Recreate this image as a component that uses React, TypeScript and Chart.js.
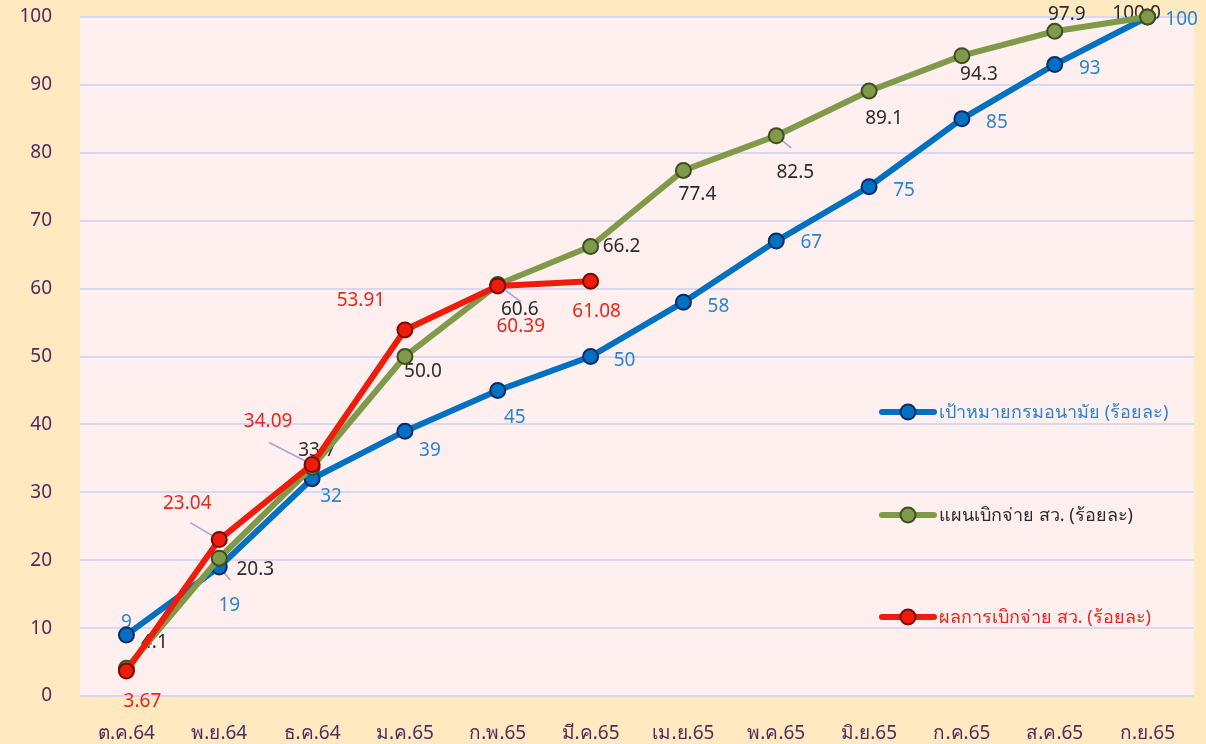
import React, { useEffect, useRef } from "react";
import { Chart, registerables } from "chart.js";

Chart.register(...registerables);

// ---------- data ----------
const months = ["ต.ค.64", "พ.ย.64", "ธ.ค.64", "ม.ค.65", "ก.พ.65", "มี.ค.65", "เม.ย.65", "พ.ค.65", "มิ.ย.65", "ก.ค.65", "ส.ค.65", "ก.ย.65"];
const targetValues = [9, 19, 32, 39, 45, 50, 58, 67, 75, 85, 93, 100];
const planValues = [4.1, 20.3, 33.7, 50.0, 60.6, 66.2, 77.4, 82.5, 89.1, 94.3, 97.9, 100.0];
const actualValues = [3.67, 23.04, 34.09, 53.91, 60.39, 61.08];
const seriesNames = ["เป้าหมายกรมอนามัย (ร้อยละ)", "แผนเบิกจ่าย สว. (ร้อยละ)", "ผลการเบิกจ่าย สว. (ร้อยละ)"];
const targetDecimals = 0;
const planDecimals = 1;
const actualDecimals = 2;

// ---------- styling ----------
const FONT = '"Noto Sans", "DejaVu Sans", sans-serif';
const OUTER_BG = "#FFE9C1";
const PLOT_BG = "#FFF0EF";
const GRID = "#D8D8F0";
const TICK_COLOR = "#4E2D5F";
const LEADER = "#A7A3D8";

const seriesStyles = [
  { line: "#0070C0", border: "#0B2A6B", text: "#2A84D2" },
  { line: "#7F9A48", border: "#3E4D22", text: "#2B2B2B" },
  { line: "#EE1C0A", border: "#7A0A00", text: "#E8261C" },
];

// label offsets (dx, dy) relative to each point
const labelOffsets: number[][][] = [
  [[0, -12], [10, 39], [19, 18], [25, 19], [17, 27], [34, 4], [35, 4], [35, 2], [35, 4], [35, 4], [35, 4], [34, 3]],
  [[28, -26], [36, 11], [5, -17], [18, 15], [22, 25], [31, 0], [14, 24], [19, 37], [15, 28], [17, 19], [12, -17], [-11, -3]],
  [[16, 31], [-32, -36], [-44, -43], [-44, -29], [23, 41], [6, 30]],
];
// leader lines: [series, index, dx, dy]
const leaders: number[][] = [
  [0, 1, 11, 13],
  [2, 1, -29, -17],
  [2, 2, -43, -22],
  [1, 4, 23, 17],
  [1, 7, 15, 12],
];
const legendRows = [412, 515, 617];

export default function App() {
  const canvasRef = useRef<HTMLCanvasElement | null>(null);

  useEffect(() => {
    document.body.style.margin = "0";
    const canvas = canvasRef.current;
    if (!canvas) return;

    const decimals = [targetDecimals, planDecimals, actualDecimals];

    const plotBg = {
      id: "plotBg",
      beforeDraw(chart: any) {
        const { ctx, chartArea } = chart;
        ctx.save();
        ctx.fillStyle = PLOT_BG;
        ctx.fillRect(chartArea.left, chartArea.top, chartArea.right - chartArea.left, chartArea.bottom - chartArea.top);
        ctx.restore();
      },
    };

    const dataLabels = {
      id: "dataLabels",
      beforeDatasetsDraw(chart: any) {
        const ctx = chart.ctx;
        ctx.save();
        ctx.strokeStyle = LEADER;
        ctx.lineWidth = 1.5;
        leaders.forEach(([s, i, dx, dy]) => {
          const el = chart.getDatasetMeta(s).data[i];
          if (!el) return;
          ctx.beginPath();
          ctx.moveTo(el.x, el.y);
          ctx.lineTo(el.x + dx, el.y + dy);
          ctx.stroke();
        });
        ctx.font = `19px ${FONT}`;
        ctx.textAlign = "center";
        ctx.textBaseline = "middle";
        chart.data.datasets.forEach((ds: any, s: number) => {
          const meta = chart.getDatasetMeta(s);
          ctx.fillStyle = seriesStyles[s].text;
          meta.data.forEach((el: any, i: number) => {
            const v = ds.data[i];
            if (v == null) return;
            const off = labelOffsets[s][i] || [0, -14];
            ctx.fillText(Number(v).toFixed(decimals[s]), el.x + off[0], el.y + off[1]);
          });
        });
        ctx.restore();
      },
    };

    const customLegend = {
      id: "customLegend",
      afterDraw(chart: any) {
        const ctx = chart.ctx;
        ctx.save();
        legendRows.forEach((y, s) => {
          const st = seriesStyles[s];
          ctx.strokeStyle = st.line;
          ctx.lineWidth = 6;
          ctx.lineCap = "round";
          ctx.beginPath();
          ctx.moveTo(882, y);
          ctx.lineTo(934, y);
          ctx.stroke();
          ctx.beginPath();
          ctx.arc(908, y, 7.5, 0, Math.PI * 2);
          ctx.fillStyle = st.line;
          ctx.fill();
          ctx.lineWidth = 2;
          ctx.strokeStyle = st.border;
          ctx.stroke();
          ctx.font = `18px ${FONT}`;
          ctx.textAlign = "left";
          ctx.textBaseline = "middle";
          ctx.fillStyle = st.text;
          ctx.fillText(seriesNames[s], 939, y + 1);
        });
        ctx.restore();
      },
    };

    const mk = (s: number, data: number[], order: number) => ({
      label: seriesNames[s],
      data,
      borderColor: seriesStyles[s].line,
      backgroundColor: seriesStyles[s].line,
      pointBackgroundColor: seriesStyles[s].line,
      pointBorderColor: seriesStyles[s].border,
      pointBorderWidth: 2,
      pointRadius: 7.5,
      borderWidth: 6,
      tension: 0,
      order,
      clip: false,
    });

    const chart = new Chart(canvas, {
      type: "line",
      data: {
        labels: months,
        datasets: [mk(0, targetValues, 3), mk(1, planValues, 2), mk(2, actualValues, 1)],
      },
      options: {
        animation: false,
        responsive: false,
        maintainAspectRatio: false,
        layout: { padding: { top: 17, right: 12, bottom: 0, left: 0 } },
        plugins: { legend: { display: false }, tooltip: { enabled: false } },
        scales: {
          x: {
            offset: true,
            grid: { display: false, drawTicks: false },
            border: { display: false },
            ticks: { color: TICK_COLOR, font: { size: 19, family: FONT }, padding: 26, maxRotation: 0, autoSkip: false },
            afterFit: (s: any) => { s.height = 48; s.paddingLeft = 0; s.paddingRight = 0; },
          },
          y: {
            min: 0,
            max: 100,
            ticks: { stepSize: 10, color: TICK_COLOR, font: { size: 19, family: FONT }, padding: 28 },
            grid: { color: GRID, lineWidth: 2, drawTicks: false },
            border: { display: false },
            afterFit: (s: any) => { s.width = 80; s.paddingTop = 0; s.paddingBottom = 0; },
          },
        },
      },
      plugins: [plotBg, dataLabels, customLegend],
    });
    return () => chart.destroy();
  }, []);

  return (
    <div style={{ width: 1206, height: 744, background: OUTER_BG }}>
      <canvas ref={canvasRef} width={1206} height={744} style={{ display: "block" }} />
    </div>
  );
}
